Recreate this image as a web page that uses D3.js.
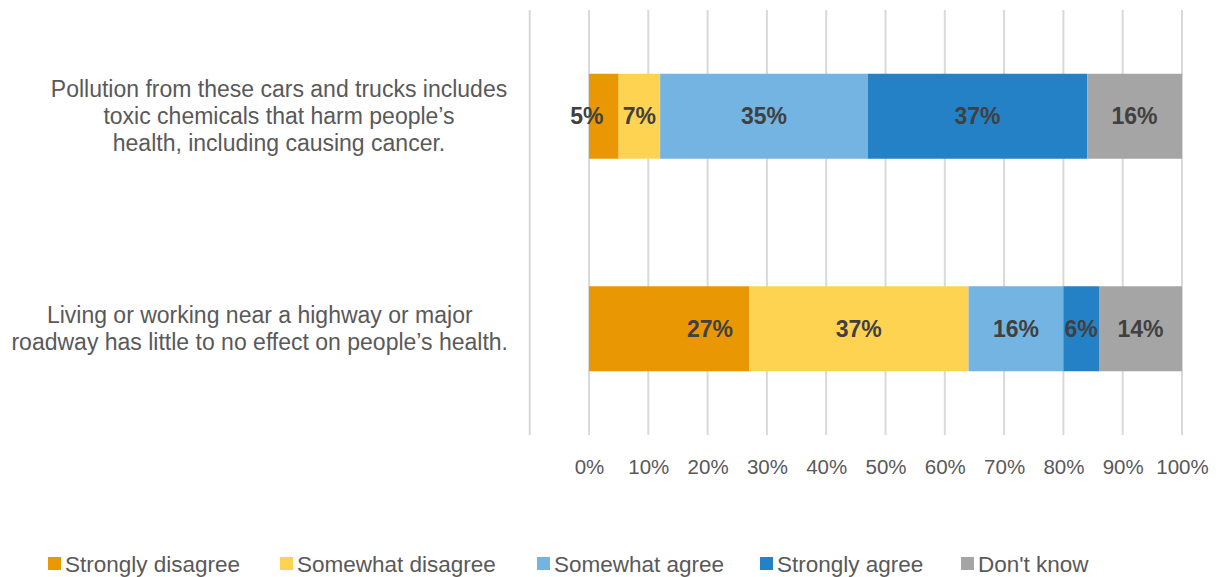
<!DOCTYPE html>
<html>
<head>
<meta charset="utf-8">
<script src="https://cdn.jsdelivr.net/npm/d3@7/dist/d3.min.js"></script>
<style>
  html, body { margin: 0; padding: 0; background: #fff; }
  svg { display: block; font-family: "Liberation Sans", Arial, sans-serif; }
</style>
</head>
<body>
<svg id="chart" width="1222" height="577"></svg>
<script>
// Survey statements (drawn top to bottom), each line of the wrapped label
const statements = [
  ["Pollution from these cars and trucks includes", "toxic chemicals that harm people\u2019s", "health, including causing cancer."],
  ["Living or working near a highway or major", "roadway has little to no effect on people\u2019s health."]
];
const responses = ["Strongly disagree", "Somewhat disagree", "Somewhat agree", "Strongly agree", "Don't know"];
const colors = ["#E99804", "#FFD352", "#74B4E2", "#2581C5", "#A5A5A5"];
// Percent of respondents per response, one array per statement
const pollutionHarms = [5, 7, 35, 37, 16];
const littleEffect = [27, 37, 16, 6, 14];
const rows = [pollutionHarms, littleEffect];
const tickValues = [0, 10, 20, 30, 40, 50, 60, 70, 80, 90, 100];

const svg = d3.select("#chart");

const x = d3.scaleLinear().domain([0, 100]).range([589, 1182]);
const y = d3.scaleBand().domain(d3.range(rows.length)).range([10, 435]).paddingInner(0.6).paddingOuter(0.3);

// vertical gridlines plus the category axis line at the left
const grid = svg.append("g");
grid.selectAll("line.g").data(tickValues).join("line")
  .attr("x1", d => x(d)).attr("x2", d => x(d))
  .attr("y1", 10).attr("y2", 435)
  .attr("stroke", "#D9D9D9").attr("stroke-width", 2);
grid.append("line")
  .attr("x1", x(-10)).attr("x2", x(-10))
  .attr("y1", 10).attr("y2", 435)
  .attr("stroke", "#D9D9D9").attr("stroke-width", 2);

// bottom axis labels
const xAxis = d3.axisBottom(x).tickValues(tickValues).tickFormat(d => d + "%").tickSize(0).tickPadding(0);
const ax = svg.append("g").attr("transform", "translate(0,474)").call(xAxis);
ax.select(".domain").remove();
ax.selectAll("text").attr("font-size", 20.5).attr("fill", "#595959")
  .attr("font-family", "'Liberation Sans', Arial, sans-serif").attr("dy", 0);

// stacked segments
const stacked = rows.map(vals => {
  let acc = 0;
  return vals.map((v, i) => { const s = { x0: acc, x1: acc + v, v, i }; acc += v; return s; });
});

// hand-placed label nudges for the narrow / moved labels (row, series, dx)
const labelNudge = { "0-0": -17, "1-0": 41 };

// statement labels are centred in a box, pushed left when a line is too long
const labelCenter = 279, labelRight = 508;

stacked.forEach((segs, r) => {
  const g = svg.append("g");
  g.selectAll("rect").data(segs).join("rect")
    .attr("x", d => x(d.x0)).attr("width", d => x(d.x1) - x(d.x0))
    .attr("y", y(r)).attr("height", y.bandwidth())
    .attr("fill", d => colors[d.i]);
  g.selectAll("text").data(segs).join("text")
    .attr("x", d => (x(d.x0) + x(d.x1)) / 2 + (labelNudge[r + "-" + d.i] || 0))
    .attr("y", y(r) + y.bandwidth() / 2)
    .attr("dy", "0.35em")
    .attr("text-anchor", "middle")
    .attr("font-size", 23).attr("font-weight", "bold").attr("fill", "#404040")
    .text(d => d.v + "%");

  const lines = statements[r];
  const lh = 27;
  const cy = y(r) + y.bandwidth() / 2;
  const t = svg.append("text")
    .attr("text-anchor", "middle")
    .attr("font-size", 23).attr("fill", "#595959");
  const spans = t.selectAll("tspan").data(lines).join("tspan")
    .attr("y", (d, i) => cy + (i - (lines.length - 1) / 2) * lh)
    .attr("dy", "0.35em")
    .text(d => d);
  const widest = d3.max(spans.nodes(), n => n.getComputedTextLength());
  const cx = Math.min(labelCenter, labelRight - widest / 2);
  spans.attr("x", cx);
});

// legend
const legendX = [48, 280, 537, 760, 961];
const lg = svg.append("g");
responses.forEach((name, i) => {
  lg.append("rect").attr("x", legendX[i]).attr("y", 557).attr("width", 13).attr("height", 13).attr("fill", colors[i]);
  lg.append("text").attr("x", legendX[i] + 17).attr("y", 564).attr("dy", "0.35em")
    .attr("font-size", 22.5).attr("fill", "#595959").text(name);
});
</script>
</body>
</html>
